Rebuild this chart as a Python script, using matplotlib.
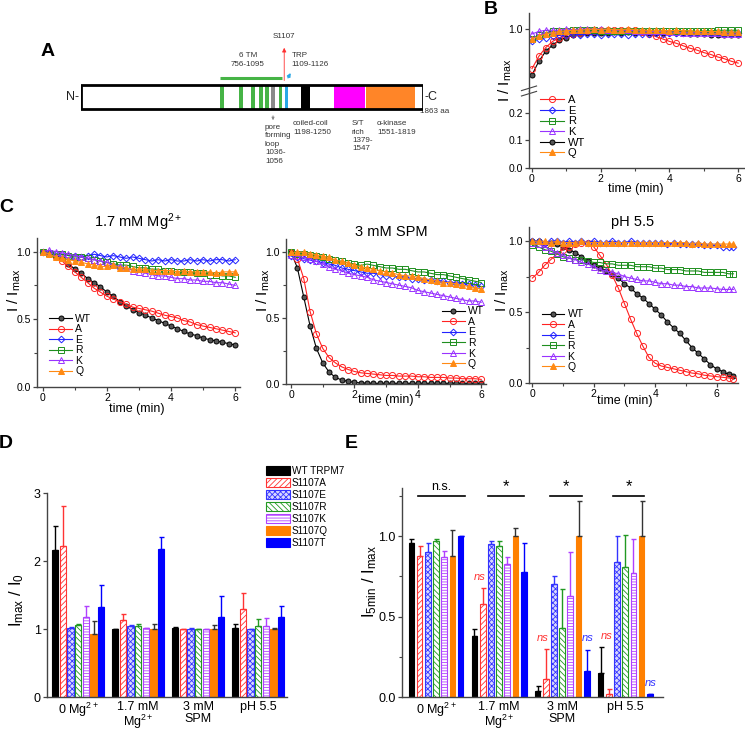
import matplotlib
matplotlib.use('Agg')
import matplotlib.pyplot as plt
from matplotlib.patches import Rectangle
import numpy as np

plt.rcParams['font.family'] = ['Liberation Sans', 'DejaVu Sans']
plt.rcParams['mathtext.fontset'] = 'custom'
plt.rcParams['mathtext.rm'] = 'Liberation Sans'
plt.rcParams['mathtext.it'] = 'Liberation Sans:italic'
plt.rcParams['hatch.linewidth'] = 0.6

W, H = 745, 735
fig = plt.figure(figsize=(7.45, 7.35), dpi=100)

def ax_px(l, t, r, b):
    return fig.add_axes([l / W, 1 - b / H, (r - l) / W, (b - t) / H])

def ftext(x, y, s, **kw):
    fig.text(x / W, 1 - y / H, s, **kw)

# ---------------- data ----------------
# Panel A: domain map (amino-acid positions)
protein_len = 1863
tm_starts = [758, 860, 926, 971, 1003, 1077]
tm_width = 20
tm_span = [756, 1095]
pore = [1036, 1056]
trp = [1109, 1126]
coiled = [1198, 1250]
st_rich = [1379, 1547]
kinase = [1551, 1819]
site = 1107

# Panel B: 0 Mg2+, I/Imax vs time
t_b = [0.0, 0.2, 0.4, 0.6, 0.8, 1.0, 1.2, 1.4, 1.6, 1.8, 2.0, 2.2, 2.4, 2.6, 2.8, 3.0,
       3.2, 3.4, 3.6, 3.8, 4.0, 4.2, 4.4, 4.6, 4.8, 5.0, 5.2, 5.4, 5.6, 5.8, 6.0]
b_WT = [0.63, 0.74, 0.82, 0.87, 0.91, 0.93, 0.95, 0.96, 0.965, 0.97, 0.97, 0.97, 0.975, 0.97, 0.975, 0.97,
        0.975, 0.97, 0.97, 0.97, 0.97, 0.965, 0.965, 0.96, 0.96, 0.96, 0.955, 0.955, 0.95, 0.95, 0.95]
b_A = [0.68, 0.78, 0.85, 0.90, 0.93, 0.95, 0.96, 0.97, 0.98, 0.98, 0.99, 0.99, 0.99, 0.99, 0.99, 0.99,
       0.975, 0.96, 0.94, 0.92, 0.90, 0.885, 0.865, 0.845, 0.83, 0.81, 0.795, 0.775, 0.76, 0.74, 0.725]
b_E = [0.90, 0.92, 0.93, 0.94, 0.95, 0.955, 0.96, 0.955, 0.96, 0.96, 0.955, 0.96, 0.96, 0.96, 0.955, 0.96,
       0.96, 0.96, 0.965, 0.96, 0.965, 0.965, 0.97, 0.965, 0.97, 0.97, 0.965, 0.97, 0.97, 0.97, 0.97]
b_R = [0.92, 0.95, 0.97, 0.98, 0.98, 0.985, 0.99, 0.99, 0.99, 0.99, 0.98, 0.985, 0.98, 0.985, 0.98, 0.985,
       0.98, 0.985, 0.98, 0.985, 0.985, 0.98, 0.985, 0.985, 0.98, 0.985, 0.985, 0.99, 0.99, 0.99, 0.99]
b_K = [0.96, 0.98, 0.99, 0.99, 0.99, 1.0, 0.995, 1.0, 1.0, 1.0, 1.0, 0.995, 0.99, 0.99, 0.99, 0.985,
       0.985, 0.98, 0.98, 0.98, 0.975, 0.975, 0.97, 0.97, 0.97, 0.965, 0.965, 0.965, 0.96, 0.96, 0.96]
b_Q = [0.92, 0.94, 0.96, 0.97, 0.98, 0.985, 0.99, 0.99, 0.995, 1.0, 0.995, 1.0, 0.995, 0.995, 1.0, 0.995,
       0.99, 0.99, 0.99, 0.99, 0.985, 0.99, 0.985, 0.985, 0.98, 0.98, 0.98, 0.98, 0.975, 0.975, 0.975]

# Panel C1: 1.7 mM Mg2+
t_c = [0.0, 0.2, 0.4, 0.6, 0.8, 1.0, 1.2, 1.4, 1.6, 1.8, 2.0, 2.2, 2.4, 2.6, 2.8, 3.0,
       3.2, 3.4, 3.6, 3.8, 4.0, 4.2, 4.4, 4.6, 4.8, 5.0, 5.2, 5.4, 5.6, 5.8, 6.0]
mg_WT = [1.00, 0.99, 0.97, 0.95, 0.91, 0.87, 0.84, 0.80, 0.77, 0.74, 0.70, 0.67, 0.63, 0.60, 0.57, 0.55,
         0.53, 0.51, 0.49, 0.47, 0.45, 0.43, 0.41, 0.39, 0.38, 0.36, 0.35, 0.34, 0.33, 0.32, 0.31]
mg_A = [1.00, 0.98, 0.96, 0.93, 0.89, 0.85, 0.81, 0.77, 0.73, 0.70, 0.67, 0.65, 0.63, 0.61, 0.59, 0.58,
        0.57, 0.56, 0.545, 0.53, 0.52, 0.51, 0.49, 0.48, 0.46, 0.45, 0.44, 0.43, 0.42, 0.41, 0.40]
mg_E = [1.00, 0.99, 0.98, 0.98, 0.97, 0.97, 0.96, 0.97, 0.98, 0.97, 0.96, 0.97, 0.96, 0.95, 0.96, 0.95,
        0.94, 0.93, 0.94, 0.93, 0.94, 0.93, 0.93, 0.94, 0.93, 0.94, 0.93, 0.94, 0.94, 0.93, 0.94]
mg_R = [1.00, 0.99, 0.98, 0.98, 0.97, 0.96, 0.96, 0.95, 0.94, 0.93, 0.92, 0.91, 0.90, 0.90, 0.89, 0.88,
        0.88, 0.87, 0.87, 0.86, 0.86, 0.85, 0.85, 0.85, 0.84, 0.84, 0.83, 0.83, 0.82, 0.82, 0.81]
mg_K = [1.00, 1.01, 1.00, 0.99, 0.98, 0.97, 0.96, 0.95, 0.94, 0.93, 0.92, 0.90, 0.89, 0.88, 0.86, 0.85,
        0.84, 0.83, 0.82, 0.82, 0.81, 0.80, 0.80, 0.79, 0.79, 0.78, 0.78, 0.77, 0.77, 0.76, 0.75]
mg_Q = [1.00, 0.98, 0.96, 0.95, 0.94, 0.93, 0.92, 0.91, 0.90, 0.89, 0.89, 0.90, 0.88, 0.88, 0.87, 0.87,
        0.87, 0.86, 0.86, 0.86, 0.86, 0.85, 0.86, 0.85, 0.85, 0.85, 0.85, 0.84, 0.85, 0.85, 0.85]

# Panel C2: 3 mM SPM
spm_WT = [1.00, 0.88, 0.66, 0.44, 0.27, 0.16, 0.09, 0.05, 0.03, 0.02, 0.012, 0.008, 0.006, 0.005, 0.005, 0.005,
          0.005, 0.005, 0.005, 0.005, 0.005, 0.005, 0.005, 0.005, 0.005, 0.005, 0.005, 0.005, 0.005, 0.005, 0.005]
spm_A = [1.00, 0.95, 0.80, 0.55, 0.38, 0.27, 0.20, 0.16, 0.13, 0.11, 0.095, 0.085, 0.08, 0.075, 0.07, 0.065,
         0.065, 0.06, 0.06, 0.06, 0.055, 0.055, 0.05, 0.05, 0.05, 0.045, 0.045, 0.04, 0.04, 0.04, 0.035]
spm_E = [0.97, 0.96, 0.95, 0.94, 0.93, 0.92, 0.91, 0.90, 0.88, 0.87, 0.86, 0.85, 0.84, 0.84, 0.83, 0.82,
         0.82, 0.81, 0.81, 0.80, 0.80, 0.79, 0.79, 0.78, 0.78, 0.77, 0.77, 0.76, 0.76, 0.75, 0.74]
spm_R = [1.00, 0.99, 0.99, 0.98, 0.97, 0.96, 0.95, 0.94, 0.93, 0.92, 0.91, 0.90, 0.91, 0.90, 0.89, 0.88,
         0.88, 0.87, 0.87, 0.86, 0.85, 0.85, 0.84, 0.83, 0.83, 0.82, 0.81, 0.80, 0.79, 0.78, 0.77]
spm_K = [0.98, 0.97, 0.96, 0.95, 0.93, 0.91, 0.89, 0.87, 0.86, 0.84, 0.83, 0.82, 0.81, 0.79, 0.78, 0.77,
         0.76, 0.75, 0.74, 0.73, 0.71, 0.70, 0.69, 0.68, 0.67, 0.66, 0.65, 0.64, 0.63, 0.63, 0.62]
spm_Q = [1.00, 1.00, 1.00, 0.99, 0.98, 0.97, 0.96, 0.94, 0.93, 0.92, 0.90, 0.89, 0.88, 0.87, 0.86, 0.85,
         0.84, 0.83, 0.82, 0.82, 0.81, 0.80, 0.79, 0.78, 0.77, 0.77, 0.76, 0.75, 0.74, 0.73, 0.72]

# Panel C3: pH 5.5
t_ph = [0.0, 0.2, 0.4, 0.6, 0.8, 1.0, 1.2, 1.4, 1.6, 1.8, 2.0, 2.2, 2.4, 2.6, 2.8, 3.0, 3.2,
        3.4, 3.6, 3.8, 4.0, 4.2, 4.4, 4.6, 4.8, 5.0, 5.2, 5.4, 5.6, 5.8, 6.0, 6.2, 6.4, 6.55]
ph_WT = [1.00, 1.00, 0.99, 0.99, 0.98, 0.96, 0.94, 0.92, 0.89, 0.86, 0.83, 0.81, 0.79, 0.77, 0.74, 0.70, 0.67,
         0.63, 0.60, 0.56, 0.52, 0.48, 0.43, 0.39, 0.35, 0.30, 0.25, 0.21, 0.17, 0.13, 0.10, 0.08, 0.06, 0.05]
ph_A = [0.74, 0.78, 0.83, 0.87, 0.91, 0.94, 0.96, 0.98, 0.99, 0.99, 0.96, 0.90, 0.84, 0.76, 0.67, 0.56, 0.45,
        0.35, 0.26, 0.18, 0.14, 0.12, 0.11, 0.10, 0.09, 0.08, 0.07, 0.065, 0.055, 0.05, 0.045, 0.04, 0.035, 0.03]
ph_E = [1.00, 1.00, 0.99, 1.00, 1.00, 0.99, 1.00, 0.99, 1.00, 0.99, 1.00, 0.99, 0.99, 1.00, 0.99, 0.99, 1.00,
        0.99, 0.99, 0.99, 0.99, 0.99, 0.98, 0.99, 0.98, 0.98, 0.98, 0.98, 0.97, 0.97, 0.97, 0.96, 0.96, 0.96]
ph_R = [0.97, 0.96, 0.94, 0.93, 0.91, 0.89, 0.88, 0.87, 0.87, 0.86, 0.85, 0.85, 0.84, 0.84, 0.83, 0.83, 0.83,
        0.82, 0.82, 0.82, 0.81, 0.81, 0.80, 0.80, 0.80, 0.79, 0.79, 0.79, 0.78, 0.78, 0.78, 0.78, 0.77, 0.77]
ph_K = [0.99, 0.98, 0.96, 0.94, 0.92, 0.90, 0.88, 0.87, 0.85, 0.84, 0.82, 0.80, 0.79, 0.78, 0.77, 0.75, 0.74,
        0.73, 0.72, 0.72, 0.71, 0.70, 0.70, 0.69, 0.69, 0.68, 0.68, 0.67, 0.67, 0.67, 0.665, 0.66, 0.66, 0.66]
ph_Q = [1.00, 1.00, 1.00, 0.99, 1.00, 0.99, 0.99, 0.99, 1.00, 0.99, 0.99, 0.99, 0.99, 0.99, 0.99, 0.99, 0.99,
        0.99, 0.99, 0.99, 0.99, 0.99, 0.99, 0.99, 0.99, 0.99, 0.98, 0.99, 0.98, 0.98, 0.98, 0.98, 0.98, 0.98]

# Panels D / E: bar charts
conditions = ['0 Mg$^{2+}$', '1.7 mM\nMg$^{2+}$', '3 mM\nSPM', 'pH 5.5']
bar_names = ['WT TRPM7', 'S1107A', 'S1107E', 'S1107R', 'S1107K', 'S1107Q', 'S1107T']
d_WT = [2.16, 1.00, 1.02, 1.01];  d_WT_err = [0.36, 0.00, 0.01, 0.07]
d_A = [2.22, 1.13, 1.00, 1.29];   d_A_err = [0.59, 0.09, 0.00, 0.24]
d_E = [1.02, 1.04, 1.00, 1.00];   d_E_err = [0.01, 0.02, 0.01, 0.00]
d_R = [1.06, 1.05, 1.00, 1.05];   d_R_err = [0.02, 0.02, 0.00, 0.10]
d_K = [1.17, 1.01, 1.00, 1.05];   d_K_err = [0.17, 0.00, 0.00, 0.11]
d_Q = [0.93, 1.00, 1.00, 1.00];   d_Q_err = [0.19, 0.07, 0.06, 0.01]
d_T = [1.32, 2.17, 1.18, 1.18];   d_T_err = [0.33, 0.19, 0.30, 0.16]

e_WT = [0.96, 0.38, 0.04, 0.15];  e_WT_err = [0.02, 0.04, 0.03, 0.16]
e_A = [0.88, 0.58, 0.11, 0.02];   e_A_err = [0.06, 0.10, 0.19, 0.03]
e_E = [0.90, 0.95, 0.70, 0.84];   e_E_err = [0.06, 0.02, 0.05, 0.16]
e_R = [0.97, 0.94, 0.43, 0.81];   e_R_err = [0.01, 0.03, 0.24, 0.20]
e_K = [0.87, 0.83, 0.63, 0.77];   e_K_err = [0.04, 0.04, 0.27, 0.21]
e_Q = [0.88, 1.00, 1.00, 1.00];   e_Q_err = [0.16, 0.05, 0.22, 0.22]
e_T = [1.00, 0.78, 0.16, 0.02];   e_T_err = [0.00, 0.18, 0.13, 0.00]

# ---------------- styles ----------------
RED = '#ff2222'; BLUE = '#2222ff'; GREEN = '#1f8f1f'; PURPLE = '#9933ff'; ORANGE = '#ff8a14'
SPINE = '#444444'
line_style = {
    'WT': dict(color='black', marker='o', mfc='#555555', mec='black', ms=3.6),
    'A': dict(color=RED, marker='o', mfc='none', mec=RED, ms=4.4),
    'E': dict(color=BLUE, marker='D', mfc='none', mec=BLUE, ms=3.4),
    'R': dict(color=GREEN, marker='s', mfc='none', mec=GREEN, ms=3.8),
    'K': dict(color=PURPLE, marker='^', mfc='none', mec=PURPLE, ms=4.4),
    'Q': dict(color=ORANGE, marker='^', mfc=ORANGE, mec=ORANGE, ms=4.4),
}

def style_axis(ax):
    for s in ['top', 'right']:
        ax.spines[s].set_visible(False)
    for s in ['left', 'bottom']:
        ax.spines[s].set_color(SPINE)
        ax.spines[s].set_linewidth(1.0)
    ax.tick_params(direction='out', length=3, width=0.9, color=SPINE, labelsize=7.5, pad=1.5)
    ax.tick_params(which='minor', direction='out', length=2, width=0.8, color=SPINE)

def plot_series(ax, t, data, order):
    handles = {}
    for key in order:
        st = line_style[key]
        h, = ax.plot(t, data[key], lw=0.8, mew=0.7, label=key, **st)
        handles[key] = h
    return handles

# ---------------- Panel A ----------------
axA = ax_px(81, 30, 423, 180)
axA.set_xlim(0, protein_len)
axA.set_ylim(0, 1)
axA.axis('off')
y0, hh = 0.473, 0.16
GREEN_A = '#46b446'
for s in tm_starts:
    axA.add_patch(Rectangle((s, y0), tm_width, hh, color=GREEN_A, lw=0))
axA.add_patch(Rectangle((pore[0], y0), pore[1] - pore[0], hh, color='#8a8a8a', lw=0))
axA.add_patch(Rectangle((trp[0], y0), trp[1] - trp[0], hh, color='#2aa8e6', lw=0))
axA.add_patch(Rectangle((coiled[0], y0), coiled[1] - coiled[0], hh, color='black', lw=0))
axA.add_patch(Rectangle((st_rich[0], y0), st_rich[1] - st_rich[0], hh, color='#ff00ff', lw=0))
axA.add_patch(Rectangle((kinase[0], y0), kinase[1] - kinase[0], hh, color='#ff8528', lw=0))
axA.add_patch(Rectangle((0, y0), protein_len, hh, fill=False, ec='black', lw=2.0, zorder=5))
axA.plot(tm_span, [0.68, 0.68], color=GREEN_A, lw=2.2, solid_capstyle='butt')
axA.annotate('', xy=(site, 0.90), xytext=(site, 0.645),
             arrowprops=dict(arrowstyle='-|>', color='#ff3030', lw=0.6, mutation_scale=6))
axA.annotate('', xy=(1150, 0.73), xytext=(1120, 0.665),
             arrowprops=dict(arrowstyle='-|>', color='#2aa8e6', lw=1.0, mutation_scale=5))
axA.annotate('', xy=(1046, 0.38), xytext=(1046, 0.447),
             arrowprops=dict(arrowstyle='-|>', color='#888888', lw=0.6, mutation_scale=4))
tA = dict(fontsize=5.8, color='#333333', linespacing=1.3)
axA.text(site, 0.955, 'S1107', ha='center', va='center', **tA)
axA.text(910, 0.80, '6 TM\n756-1095', ha='center', va='center', **tA)
axA.text(1146, 0.80, 'TRP\n1109-1126', ha='left', va='center', **tA)
axA.text(1002, 0.375, 'pore\nforming\nloop\n1036-\n1056', ha='left', va='top', **tA)
axA.text(1155, 0.40, 'coiled-coil\n1198-1250', ha='left', va='top', **tA)
axA.text(1476, 0.40, 'S/T\nrich\n1379-\n1547', ha='left', va='top', **tA)
axA.text(1612, 0.40, 'α-kinase\n1551-1819', ha='left', va='top', **tA)
axA.text(1846, 0.455, '1863 aa', ha='left', va='center', **tA)
axA.text(-12, 0.553, 'N-', ha='right', va='center', fontsize=9, color='#222222')
axA.text(1872, 0.553, '-C', ha='left', va='center', fontsize=9, color='#222222')

# ---------------- Panel B ----------------
axBhi = ax_px(529, 13, 745, 91)
axBlo = ax_px(529, 91, 745, 168)
for ax in (axBhi, axBlo):
    style_axis(ax)
    ax.set_xlim(-0.087, 6.2)
axBhi.set_ylim(0.5, 1.129)
axBhi.set_yticks([1.0])
axBhi.set_yticklabels(['1.0'])
axBhi.spines['bottom'].set_visible(False)
axBhi.tick_params(axis='x', which='both', bottom=False, labelbottom=False)
axBlo.set_ylim(0, 0.278)
axBlo.set_yticks([0.0, 0.1, 0.2])
axBlo.set_yticklabels(['0.0', '0.1', '0.2'])
axBlo.set_xticks([0, 2, 4, 6])
axBlo.set_xticks([1, 3, 5], minor=True)
dataB = {'WT': b_WT, 'A': b_A, 'E': b_E, 'R': b_R, 'K': b_K, 'Q': b_Q}
hB = plot_series(axBhi, t_b, dataB, ['WT', 'A', 'E', 'R', 'K', 'Q'])
for dy in (-0.035, 0.035):
    axBlo.plot([-0.035, 0.035], [1.0 + dy - 0.03, 1.0 + dy + 0.03], transform=axBlo.transAxes,
               color=SPINE, lw=0.8, clip_on=False)
legB_order = ['A', 'E', 'R', 'K', 'WT', 'Q']
axBlo.legend([hB[k] for k in legB_order], legB_order, loc='upper left', bbox_to_anchor=(0.02, 1.03),
             frameon=False, fontsize=8, handlelength=2.2, handletextpad=0.3, labelspacing=0.05,
             borderpad=0.1)
ftext(505, 80, 'I / I$_{\\mathrm{max}}$', rotation=90, ha='center', va='center', fontsize=11)
ftext(636, 189, 'time (min)', ha='center', va='center', fontsize=9)

# ---------------- Panel C ----------------
c_order = ['WT', 'A', 'E', 'R', 'K', 'Q']

def setup_c(ax):
    style_axis(ax)
    ax.set_ylim(0, 1.1)
    ax.set_yticks([0, 0.5, 1.0])
    ax.set_yticklabels(['0.0', '0.5', '1.0'])
    ax.set_yticks([0.25, 0.75], minor=True)
    ax.set_xticks([0, 2, 4, 6])
    ax.set_xticks([1, 3, 5], minor=True)

leg_kw = dict(frameon=False, fontsize=7.5, handlelength=2.2, handletextpad=0.3, labelspacing=0.05,
              borderpad=0.1)

axC1 = ax_px(37, 238, 240, 387)
setup_c(axC1)
axC1.set_xlim(-0.18, 6.15)
h1 = plot_series(axC1, t_c, {'WT': mg_WT, 'A': mg_A, 'E': mg_E, 'R': mg_R, 'K': mg_K, 'Q': mg_Q}, c_order)
axC1.legend([h1[k] for k in c_order], c_order, loc='lower left', bbox_to_anchor=(0.03, 0.03), **leg_kw)

axC2 = ax_px(286, 239, 486, 384)
setup_c(axC2)
axC2.set_xlim(-0.16, 6.15)
h2 = plot_series(axC2, t_c, {'WT': spm_WT, 'A': spm_A, 'E': spm_E, 'R': spm_R, 'K': spm_K, 'Q': spm_Q}, c_order)
axC2.legend([h2[k] for k in c_order], c_order, loc='lower right', bbox_to_anchor=(1.02, 0.06), **leg_kw)

axC3 = ax_px(529, 227, 738, 383)
setup_c(axC3)
axC3.set_xlim(-0.11, 6.7)
h3 = plot_series(axC3, t_ph, {'WT': ph_WT, 'A': ph_A, 'E': ph_E, 'R': ph_R, 'K': ph_K, 'Q': ph_Q}, c_order)
axC3.legend([h3[k] for k in c_order], c_order, loc='lower left', bbox_to_anchor=(0.03, 0.03), **leg_kw)

ftext(138, 222, '1.7 mM Mg$^{2+}$', ha='center', va='center', fontsize=10.5)
ftext(391, 232, '3 mM SPM', ha='center', va='center', fontsize=10.5)
ftext(633, 222, 'pH 5.5', ha='center', va='center', fontsize=10.5)
for x, y in [(14, 290), (263, 290), (502, 290)]:
    ftext(x, y, 'I / I$_{\\mathrm{max}}$', rotation=90, ha='center', va='center', fontsize=11)
for x, y in [(137, 409), (386, 400), (625, 401)]:
    ftext(x, y, 'time (min)', ha='center', va='center', fontsize=9)

# ---------------- Panels D / E ----------------
bar_styles = [
    dict(color='black', edgecolor='black'),
    dict(facecolor='white', edgecolor='#ff3333', hatch='//////'),
    dict(facecolor='#d8d8ff', edgecolor='#3333ff', hatch='xxxxxx'),
    dict(facecolor='white', edgecolor='#229922', hatch='\\\\\\\\\\\\'),
    dict(facecolor='white', edgecolor='#b040ff', hatch='------'),
    dict(color='#ff8000', edgecolor='#ff8000'),
    dict(color='#0000ff', edgecolor='#0000ff'),
]
err_colors = ['black', '#ff3333', '#3333ff', '#229922', '#b040ff', '#333333', '#0000ff']

def bar_panel(ax, series, errs, pitch, width):
    style_axis(ax)
    x = np.arange(len(conditions))
    handles = []
    for k, (vals, er) in enumerate(zip(series, errs)):
        xs = x + (k - 3) * pitch
        b = ax.bar(xs, vals, width=width, linewidth=0.8, label=bar_names[k], **bar_styles[k])
        handles.append(b)
        ax.errorbar(xs, vals, yerr=[np.zeros(len(vals)), er], fmt='none', ecolor=err_colors[k],
                    elinewidth=1.0, capsize=1.8, capthick=1.0)
    ax.set_xticks(x)
    ax.set_xticklabels(conditions, fontsize=9, linespacing=1.0)
    ax.tick_params(axis='x', length=0, pad=3)
    ax.tick_params(axis='y', labelsize=9)
    return handles

axD = ax_px(47, 493, 287, 697)
hD = bar_panel(axD, [d_WT, d_A, d_E, d_R, d_K, d_Q, d_T],
               [d_WT_err, d_A_err, d_E_err, d_R_err, d_K_err, d_Q_err, d_T_err], 0.128, 0.105)
axD.set_xlim(-0.52, 3.48)
axD.set_ylim(0, 3.0)
axD.set_yticks([0, 1, 2, 3])
ftext(17, 600, 'I$_{\\mathrm{max}}$ / I$_0$', rotation=90, ha='center', va='center', fontsize=12)
fig.legend(hD, bar_names, loc='upper left', bbox_to_anchor=(266 / W, 1 - 466 / H), frameon=False,
           fontsize=7.2, handlelength=2.4, handleheight=1.0, handletextpad=0.2, labelspacing=0.2,
           borderpad=0.0, borderaxespad=0.0)

axE = ax_px(402, 488, 663, 697)
bar_panel(axE, [e_WT, e_A, e_E, e_R, e_K, e_Q, e_T],
          [e_WT_err, e_A_err, e_E_err, e_R_err, e_K_err, e_Q_err, e_T_err], 0.13, 0.09)
axE.set_xlim(-0.54, 3.60)
axE.set_ylim(0, 1.3)
axE.set_yticks([0, 0.5, 1.0])
axE.set_yticklabels(['0.0', '0.5', '1.0'])
axE.set_yticks([0.25, 0.75, 1.25], minor=True)
ftext(370, 582, 'I$_{\\mathrm{5min}}$ / I$_{\\mathrm{max}}$', rotation=90, ha='center', va='center', fontsize=12)

sig_spans = [(-0.29, 0.46), (0.83, 1.40), (1.81, 2.32), (2.81, 3.30)]
sig_labels = ['n.s.', '*', '*', '*']
for (a, b), lab in zip(sig_spans, sig_labels):
    axE.plot([a, b], [1.25, 1.25], color='black', lw=1.2, clip_on=False)
    if lab == '*':
        axE.text((a + b) / 2, 1.26, lab, ha='center', va='bottom', fontsize=12, clip_on=False)
    else:
        axE.text((a + b) / 2, 1.27, lab, ha='center', va='bottom', fontsize=9, clip_on=False)
ns_marks = [(0.70, 0.745, '#ff3333'), (1.70, 0.37, '#ff3333'), (2.40, 0.37, '#3333ff'),
            (2.71, 0.38, '#ff3333'), (3.41, 0.09, '#3333ff')]
for x, y, c in ns_marks:
    axE.text(x, y, 'ns', color=c, style='italic', fontsize=8, ha='center', va='center')

# ---------------- panel letters ----------------
for x, y, s in [(48, 51, 'A'), (491, 9, 'B'), (6, 208, 'C'), (6, 443, 'D'), (351, 443, 'E')]:
    ftext(x, y, s, ha='center', va='center', fontsize=14, fontweight='bold')

fig.savefig('out.png', dpi=100)
